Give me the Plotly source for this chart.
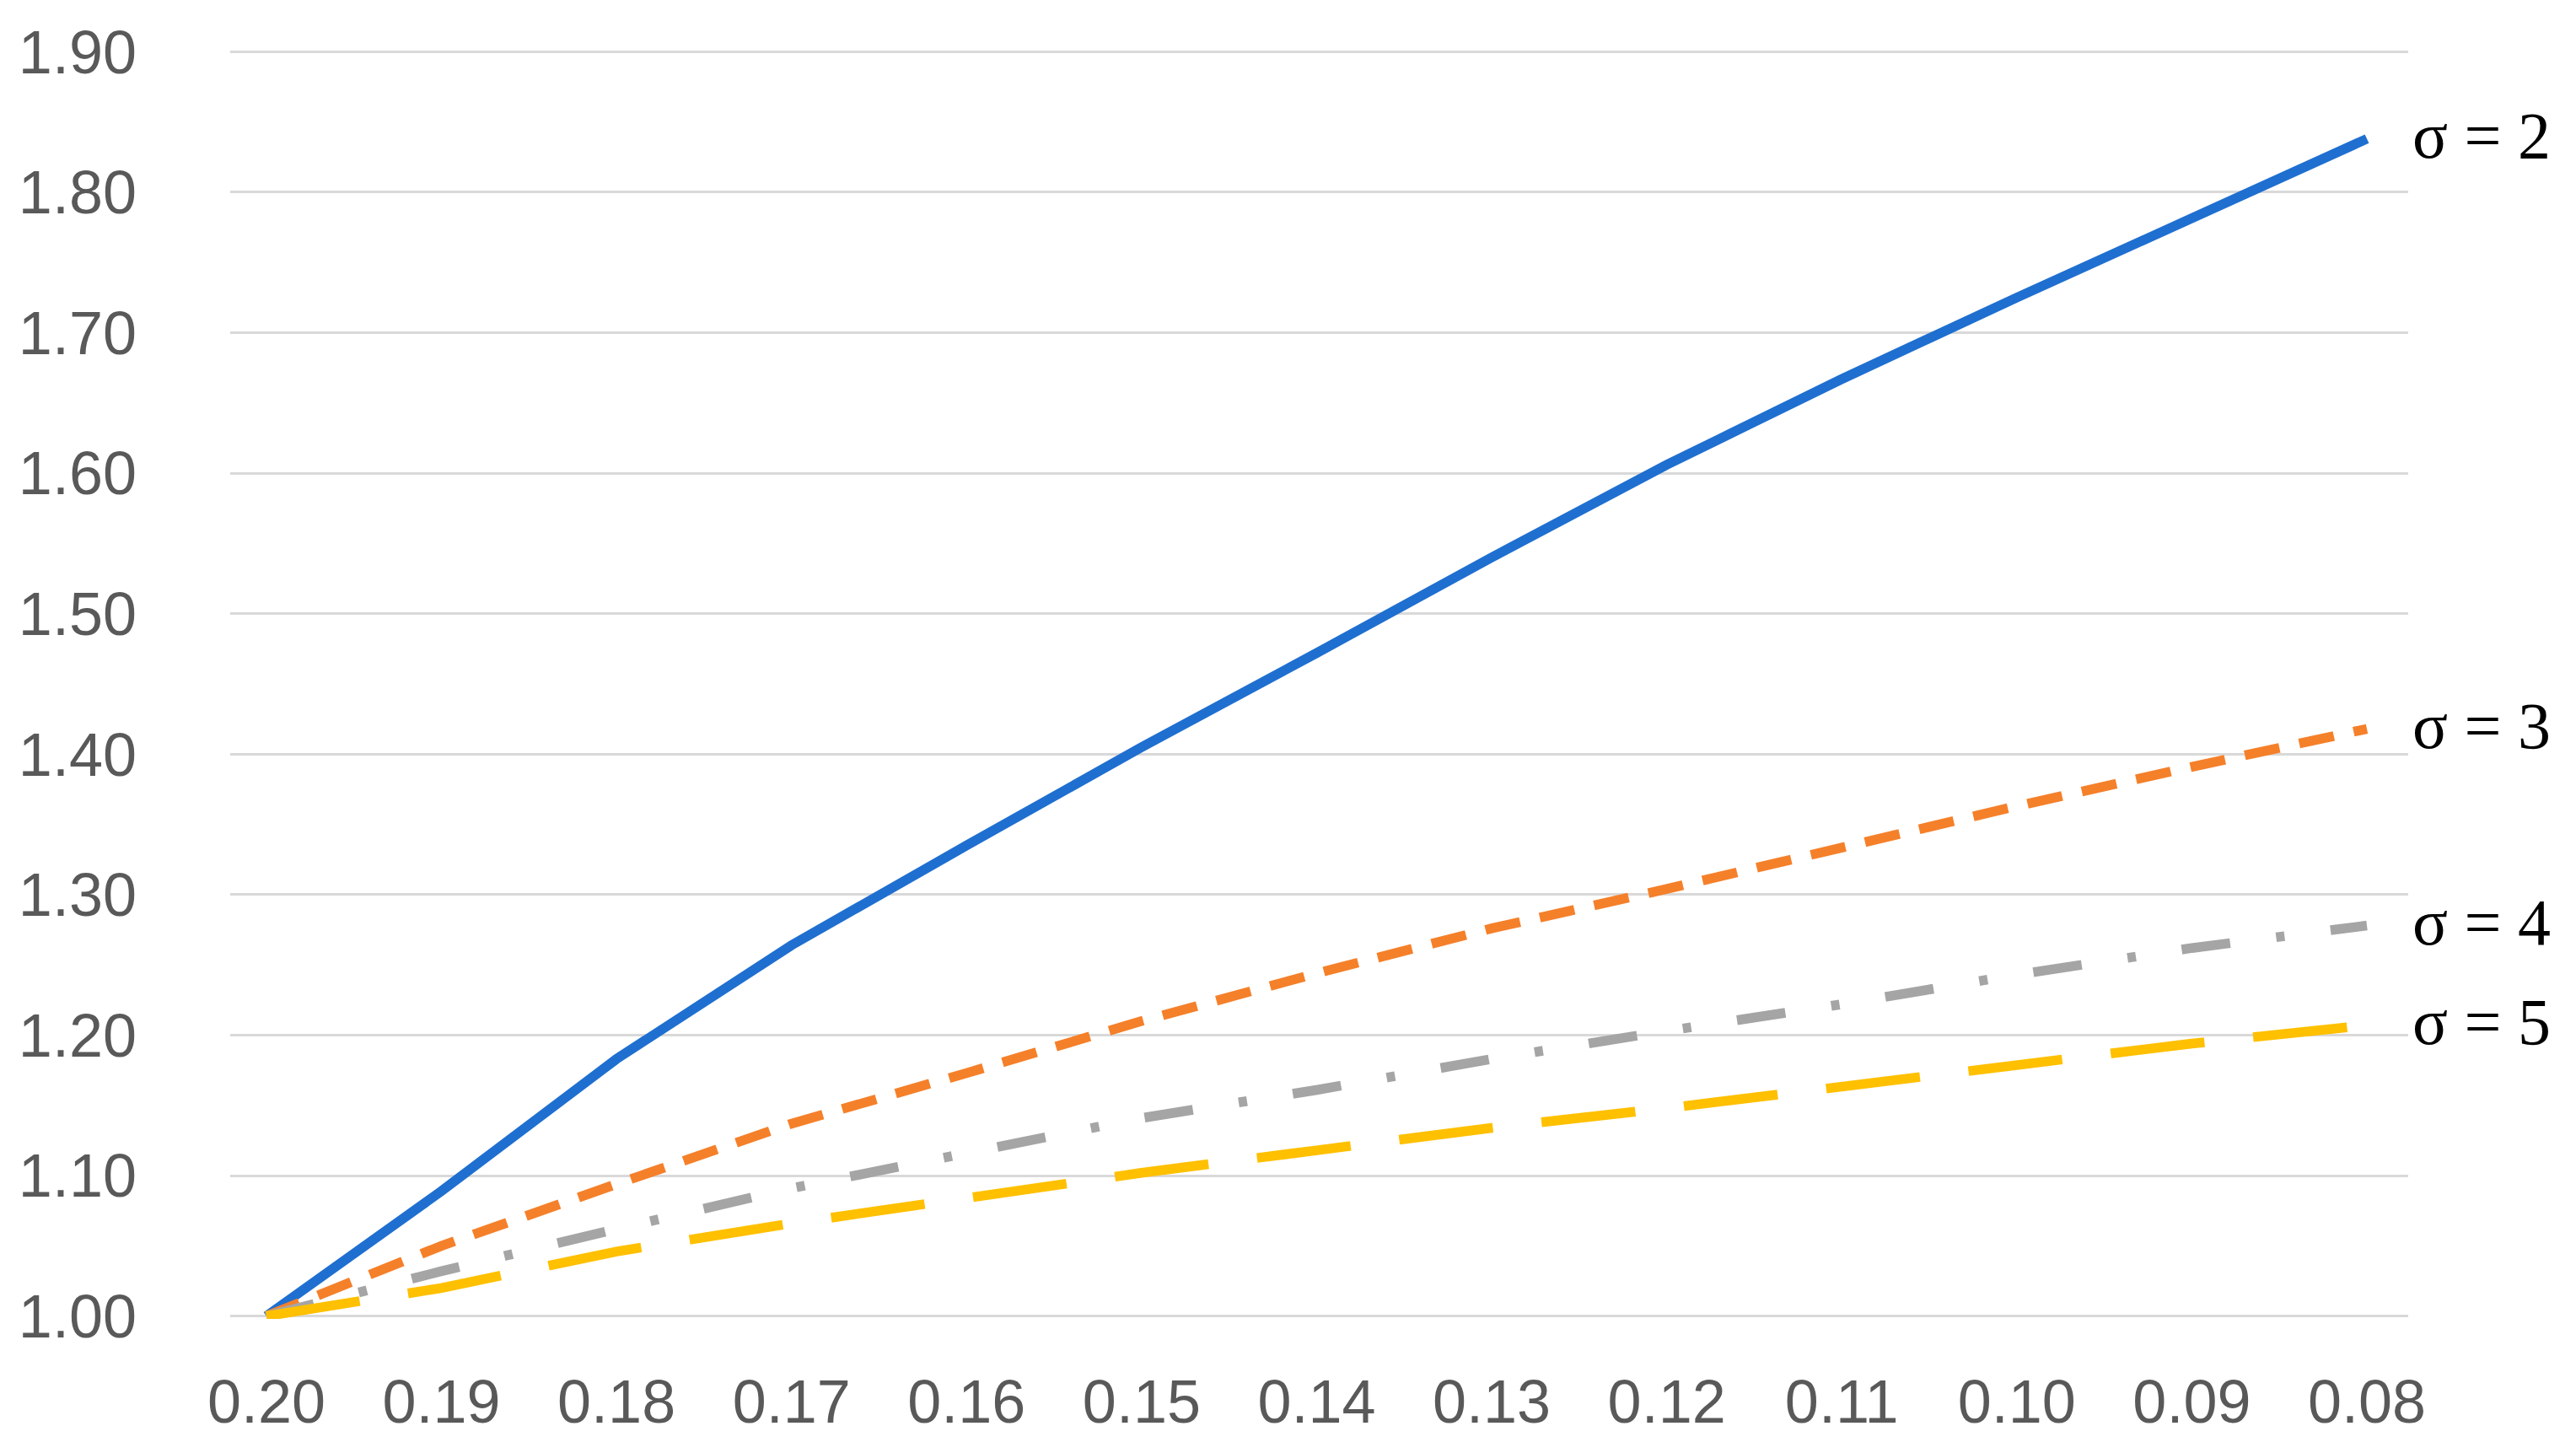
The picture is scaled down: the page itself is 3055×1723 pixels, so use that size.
import plotly.graph_objects as go

x_vals = [0.20, 0.19, 0.18, 0.17, 0.16, 0.15, 0.14, 0.13, 0.12, 0.11, 0.10, 0.09, 0.08]
tick_labels = ['0.20', '0.19', '0.18', '0.17', '0.16', '0.15', '0.14', '0.13', '0.12', '0.11', '0.10', '0.09', '0.08']

sigma2 = [1.000, 1.089, 1.183, 1.264, 1.335, 1.405, 1.472, 1.540, 1.606, 1.667, 1.725, 1.781, 1.838]
sigma3 = [1.000, 1.050, 1.094, 1.137, 1.173, 1.210, 1.244, 1.276, 1.304, 1.334, 1.363, 1.391, 1.418]
sigma4 = [1.000, 1.032, 1.062, 1.091, 1.116, 1.141, 1.161, 1.183, 1.203, 1.222, 1.243, 1.262, 1.278]
sigma5 = [1.000, 1.020, 1.046, 1.066, 1.084, 1.102, 1.118, 1.134, 1.148, 1.163, 1.179, 1.194, 1.207]

series_names = ['σ = 2', 'σ = 3', 'σ = 4', 'σ = 5']
series = [sigma2, sigma3, sigma4, sigma5]
colors = ['#1f6fd0', '#f5802a', '#a5a5a5', '#ffc000']
dashes = ['solid', '42px,24px', '58px,55px,10px,55px', '112px,58px']

fig = go.Figure()
for name, ys, c, d in zip(series_names, series, colors, dashes):
    fig.add_trace(go.Scatter(x=x_vals, y=ys, mode='lines', name=name,
                             line=dict(color=c, width=11.5, dash=d), showlegend=False))
    # label at the end of each line
    fig.add_annotation(x=x_vals[-1], y=ys[-1], xref='x', yref='y', text=name,
                       showarrow=False, xanchor='left', yanchor='middle', xshift=52, yshift=4,
                       font=dict(family='Liberation Serif, Times New Roman, serif', size=78, color='black'))

tick_font = dict(family='Liberation Sans, Arial', size=72, color='#595959')

fig.update_xaxes(range=[0.20207, 0.07764], tickvals=x_vals, ticktext=tick_labels,
                 showgrid=False, zeroline=False, showline=False, ticks='',
                 ticklabelstandoff=50, tickfont=tick_font)
fig.update_yaxes(range=[0.998, 1.902], tickvals=[1.0, 1.1, 1.2, 1.3, 1.4, 1.5, 1.6, 1.7, 1.8, 1.9],
                 tickformat='.2f', showgrid=True, gridcolor='#d9d9d9', gridwidth=3,
                 zeroline=False, showline=False, ticks='', ticklabelstandoff=110,
                 tickfont=tick_font)

fig.update_layout(width=3055, height=1723, plot_bgcolor='white', paper_bgcolor='white',
                  margin=dict(l=265, r=207, t=50, b=167))

fig.write_html('out.html')
